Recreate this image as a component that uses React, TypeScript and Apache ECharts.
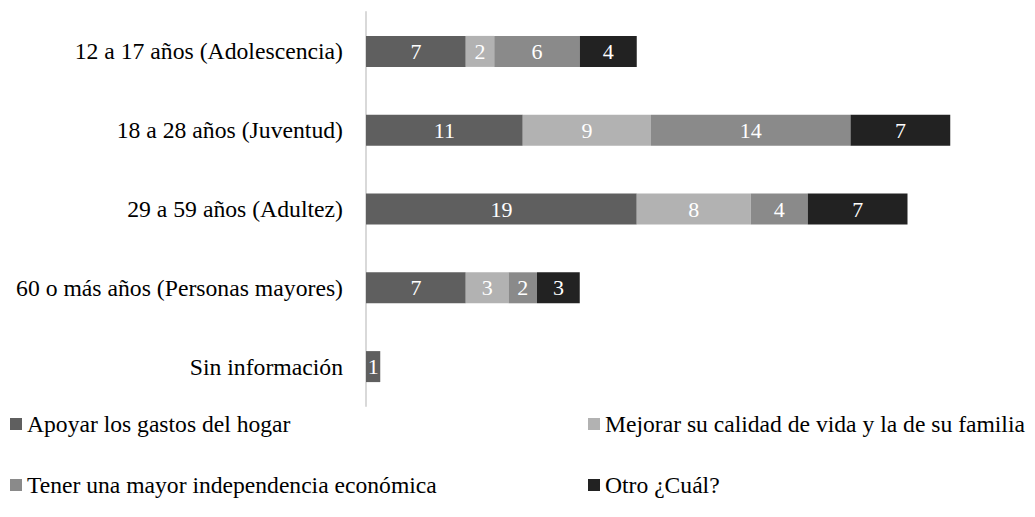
import React, { useEffect, useRef } from "react";
import * as echarts from "echarts";

const categories = [
  "12 a 17 años (Adolescencia)",
  "18 a 28 años (Juventud)",
  "29 a 59 años (Adultez)",
  "60 o más años (Personas mayores)",
  "Sin información",
];
const seriesNames = [
  "Apoyar los gastos del hogar",
  "Mejorar su calidad de vida y la de su familia",
  "Tener una mayor independencia económica",
  "Otro ¿Cuál?",
];
const apoyar = [7, 11, 19, 7, 1];
const mejorar = [2, 9, 8, 3, 0];
const tener = [6, 14, 4, 2, 0];
const otro = [4, 7, 7, 3, 0];
const colors = ["#5f5f5f", "#b2b2b2", "#8a8a8a", "#222222"];

const FONT = "Liberation Serif";

export default function App() {
  const ref = useRef<HTMLDivElement>(null);
  useEffect(() => {
    if (!ref.current) return;
    const chart = echarts.init(ref.current, null, { renderer: "svg" });
    const values = [apoyar, mejorar, tener, otro];
    const legendText = { color: "#000", fontSize: 23.6, lineHeight: 24, fontFamily: FONT, padding: [0, 0, 0, 0] };
    chart.setOption({
      animation: false,
      textStyle: { fontFamily: FONT },
      color: colors,
      grid: { left: 366, top: 12, height: 394, width: 641.25 },
      xAxis: {
        type: "value",
        min: 0,
        max: 45,
        show: false,
      },
      yAxis: {
        type: "category",
        data: categories,
        inverse: true,
        axisLine: { show: true, lineStyle: { color: "#d9d9d9", width: 2 } },
        axisTick: { show: false },
        axisLabel: { color: "#000", fontSize: 23.7, fontFamily: FONT, margin: 23 },
      },
      legend: [
        {
          left: 10,
          top: 412,
          padding: 0,
          orient: "vertical",
          itemGap: 37,
          itemWidth: 12,
          itemHeight: 12,
          icon: "rect",
          data: [seriesNames[0], seriesNames[2]],
          textStyle: legendText,
        },
        {
          left: 588,
          top: 412,
          padding: 0,
          orient: "vertical",
          itemGap: 37,
          itemWidth: 12,
          itemHeight: 12,
          icon: "rect",
          data: [seriesNames[1], seriesNames[3]],
          textStyle: legendText,
        },
      ],
      series: seriesNames.map((name, i) => ({
        name,
        type: "bar",
        stack: "total",
        barWidth: 31,
        data: values[i],
        itemStyle: { color: colors[i] },
        label: {
          show: true,
          position: "inside",
          color: "#fff",
          fontSize: 22,
          fontFamily: FONT,
          formatter: (p: any) => (p.value ? String(p.value) : ""),
        },
      })),
    });
    return () => chart.dispose();
  }, []);
  return <div ref={ref} style={{ width: 1035, height: 517, margin: -8 }} />;
}
